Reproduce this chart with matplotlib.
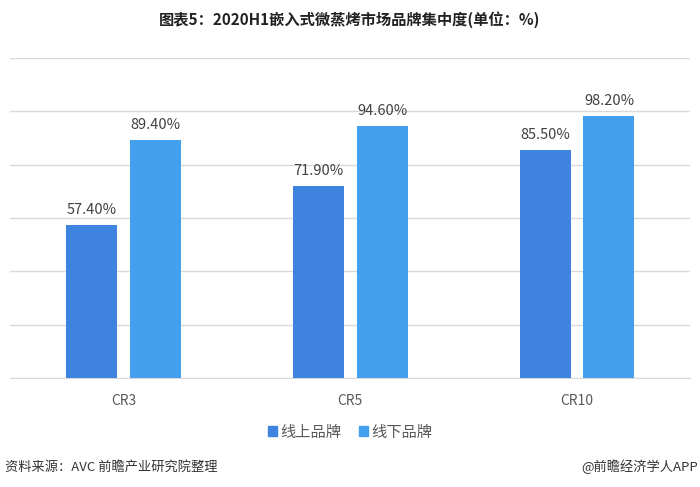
import matplotlib
matplotlib.use("Agg")
import matplotlib.pyplot as plt
import numpy as np
from matplotlib.patches import Rectangle

plt.rcParams['font.family'] = ['Noto Sans CJK SC', 'DejaVu Sans']

categories = ["CR3", "CR5", "CR10"]
online = [57.4, 71.9, 85.5]
offline = [89.4, 94.6, 98.2]
series_names = ["线上品牌", "线下品牌"]
colors = ["#3F83E0", "#43A0EE"]

fig = plt.figure(figsize=(7, 4.87), dpi=100)
ax = fig.add_axes([10 / 700, 0.2238, 680.4 / 700, 0.6572])

x = np.arange(len(categories))
w = 0.225
off = 0.141
b1 = ax.bar(x - off, online, w, color=colors[0], zorder=3)
b2 = ax.bar(x + off, offline, w, color=colors[1], zorder=3)

for bars, vals in ((b1, online), (b2, offline)):
    for r, v in zip(bars, vals):
        ax.text(r.get_x() + r.get_width() / 2, v + 3.0, f"{v:.2f}%",
                ha="center", va="bottom", fontsize=10.5, color="#404040")

ax.set_xlim(-0.5, 2.5)
ax.set_ylim(0, 120)
ax.set_yticks(np.arange(0, 121, 20))
ax.yaxis.grid(True, color="#D9D9D9", linewidth=1)
ax.set_axisbelow(True)
ax.tick_params(axis="y", left=False, labelleft=False)
ax.tick_params(axis="x", bottom=False, labelsize=10, labelcolor="#595959", pad=8)
ax.set_xticks(x)
ax.set_xticklabels(categories)
for s in ["top", "right", "left"]:
    ax.spines[s].set_visible(False)
ax.spines["bottom"].set_color("#D9D9D9")

fig.text(0.5, 1 - 20 / 487, "图表5：2020H1嵌入式微蒸烤市场品牌集中度(单位：%)",
         ha="center", va="center", fontsize=11, fontweight="bold", color="#222222")

# legend
handles = [Rectangle((0, 0), 1, 1, color=c) for c in colors]
fig.legend(handles, series_names, loc="center", bbox_to_anchor=(0.5, 1 - 432 / 487),
           ncol=2, frameon=False, fontsize=11, handlelength=0.6, handleheight=0.6,
           handletextpad=0.2, columnspacing=1.2, labelcolor="#595959")

fig.text(5 / 700, 1 - 467 / 487, "资料来源：AVC 前瞻产业研究院整理", ha="left", va="center",
         fontsize=9.5, color="#333333")
fig.text(698 / 700, 1 - 467 / 487, "@前瞻经济学人APP", ha="right", va="center",
         fontsize=9.5, color="#333333")

fig.savefig("out.png", dpi=100)
